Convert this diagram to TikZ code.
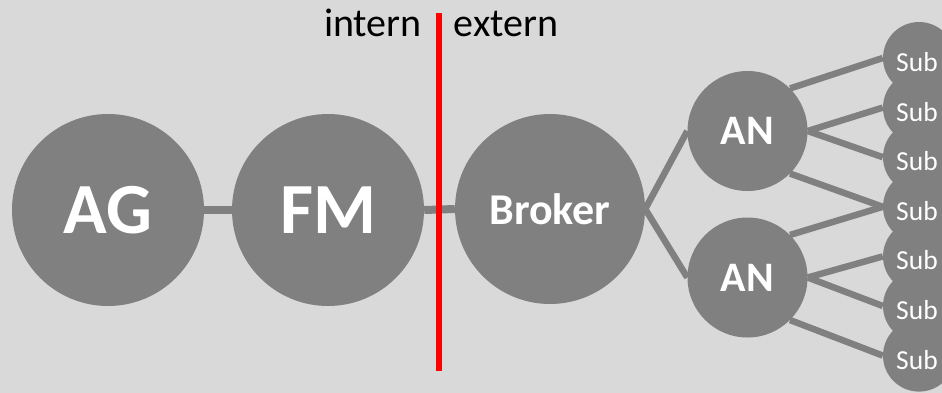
\documentclass[tikz,border=0pt]{standalone}
\usepackage{fontspec}
\setmainfont{Carlito}
\pgfdeclarelayer{background}
\pgfsetlayers{background,main}
\definecolor{paper}{HTML}{D9D9D9}
\definecolor{disc}{HTML}{808080}
\definecolor{boundary}{HTML}{FF0000}
\tikzset{
  disc/.style={circle, fill=disc, inner sep=0pt, text=white, minimum size=#1},
  bignode/.style={disc=192pt, font=\bfseries\fontsize{72}{72}\selectfont},
  brokernode/.style={disc=190pt, font=\bfseries\fontsize{44}{44}\selectfont},
  annode/.style={disc=120pt, font=\bfseries\fontsize{42}{42}\selectfont},
  subnode/.style={disc=72pt, font=\fontsize{27.5}{27.5}\selectfont},
  link/.style={draw=disc, line width=6.5pt},
  mainlink/.style={draw=disc, line width=8pt},
  label/.style={font=\fontsize{40}{40}\selectfont, anchor=base, inner sep=0pt}
}
\begin{document}
\begin{tikzpicture}[x=1pt, y=-1pt]
  \useasboundingbox (0,0) rectangle (942,392);
  \clip (0,0) rectangle (942,392);

  % main chain
  \node[bignode] (ag) at (108,210) {AG};
  \node[bignode] (fm) at (328,210) {FM};
  \node[brokernode] (broker) at (550,209) {Broker};

  % access nodes
  \node[annode] (an1) at (747.5,131) {AN};
  \node[annode] (an2) at (747.5,277.5) {AN};

  % subscribers (label set slightly below the disc centre)
  \foreach \i/\y in {1/58, 2/107.6, 3/157.2, 4/206.8, 5/256.4, 6/306, 7/355.6}
    \node[subnode] (sub\i) at (919,\y)
      {\hspace*{-4pt}\raisebox{-4pt}[\height][\depth]{Sub}};

  \begin{pgfonlayer}{background}
    \fill[paper] (-5,-5) rectangle (947,397);
    \draw[mainlink] (ag.east) -- (fm.west);
    \draw[mainlink] (fm.east) -- (broker.west);
    \draw[link] (broker.east) -- (an1.west);
    \draw[link] (broker.east) -- (an2.west);
    \draw[link] (an1.north east) -- (sub1.west);
    \draw[link] (an1.east) -- (sub2.west);
    \draw[link] (an1.east) -- (sub3.west);
    \draw[link] (an1.south east) -- (sub4.west);
    \draw[link] (an2.north east) -- (sub4.west);
    \draw[link] (an2.east) -- (sub5.west);
    \draw[link] (an2.east) -- (sub6.west);
    \draw[link] (an2.south east) -- (sub7.west);
  \end{pgfonlayer}

  % boundary between internal and external side
  \coordinate (btop) at (439,13);
  \coordinate (bbot) at (439,371);
  \draw[boundary, line width=6pt] (btop) -- (bbot);
  \node[label] (intern) at (373,36) {intern};
  \node[label] (extern) at (506,36) {extern};
\end{tikzpicture}
\end{document}
